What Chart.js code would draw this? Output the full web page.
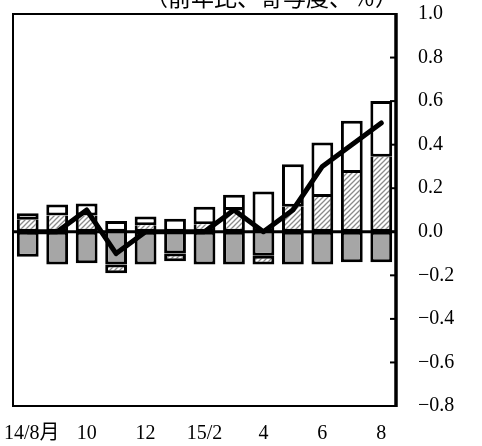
<!DOCTYPE html>
<html>
<head>
<meta charset="utf-8">
<script src="https://cdn.jsdelivr.net/npm/chart.js@4.4.1/dist/chart.umd.min.js"></script>
<style>
  html, body { margin: 0; padding: 0; background: #fff; }
  #wrap { width: 482px; height: 446px; }
</style>
</head>
<body>
<div id="wrap"><canvas id="chart" width="482" height="446"></canvas></div>
<script>
// monthly categories, 14/8 .. 15/8
const categories = ['14/8', '9', '10', '11', '12', '15/1', '15/2', '3', '4', '5', '6', '7', '8'];
const tickLabels = ['14/8月', '', '10', '', '12', '', '15/2', '', '4', '', '6', '', '8'];

// contributions (% pts)
const grayValues  = [-0.115, -0.15, -0.145, -0.15, -0.15, -0.10, -0.15, -0.15, -0.11, -0.15, -0.15, -0.14, -0.14];
const hatchValues = [0.055, 0.075, 0.075, -0.04, 0.03, -0.035, 0.035, 0.10, -0.04, 0.115, 0.16, 0.27, 0.345];
const whiteValues = [0.03, 0.05, 0.055, 0.05, 0.04, 0.06, 0.08, 0.07, 0.185, 0.195, 0.25, 0.24, 0.255];
// total (y/y %)
const totalValues = [0.0, 0.0, 0.1, -0.1, 0.0, 0.0, 0.0, 0.1, 0.0, 0.1, 0.3, 0.4, 0.5];

const yMin = -0.8, yMax = 1.0, yStep = 0.2;
const titleText = '（前年比、寄与度、％）';

const numFont = '"Liberation Serif", "Noto Sans CJK JP", serif';

// diagonal hatch fill
function makeHatch() {
    const s = 5;
    const c = document.createElement('canvas');
    c.width = s; c.height = s;
    const g = c.getContext('2d');
    g.fillStyle = '#fff';
    g.fillRect(0, 0, s, s);
    g.strokeStyle = '#8a8a8a';
    g.lineWidth = 1.3;
    g.beginPath();
    g.moveTo(0, s); g.lineTo(s, 0);
    g.moveTo(-1, 1); g.lineTo(1, -1);
    g.moveTo(s - 1, s + 1); g.lineTo(s + 1, s - 1);
    g.stroke();
    return g.createPattern(c, 'repeat');
}
const hatch = makeHatch();

// skip one of two touching edges so stacked pieces share a single border
function graySkip(c) {
    return hatchValues[c.dataIndex] < 0 ? 'bottom' : false;
}
function hatchSkip(c) {
    const i = c.dataIndex;
    return hatchValues[i] > 0 && whiteValues[i] > 0 ? 'top' : false;
}

// frame, inner ticks, zero line, x labels and title
const decorations = {
    id: 'decorations',
    afterDatasetsDraw(chart) {
        const ctx = chart.ctx;
        const a = chart.chartArea;
        const y = chart.scales.y;
        ctx.save();
        ctx.strokeStyle = '#000';
        ctx.lineWidth = 3;
        ctx.beginPath();
        ctx.moveTo(a.left, y.getPixelForValue(0));
        ctx.lineTo(a.right, y.getPixelForValue(0));
        ctx.stroke();
        ctx.restore();
    },
    afterDraw(chart) {
        const ctx = chart.ctx;
        const a = chart.chartArea;
        const x = chart.scales.x;
        const y = chart.scales.y;
        ctx.save();
        ctx.strokeStyle = '#000';
        ctx.lineWidth = 2;
        ctx.strokeRect(a.left, a.top, a.right - a.left, a.bottom - a.top);
        ctx.lineWidth = 3.5;
        ctx.beginPath();
        ctx.moveTo(a.right, a.top - 1);
        ctx.lineTo(a.right, a.bottom + 1);
        ctx.stroke();

        // inward tick marks on the right axis
        ctx.lineWidth = 2;
        y.ticks.forEach(t => {
            const py = y.getPixelForValue(t.value);
            ctx.beginPath();
            ctx.moveTo(a.right - 6, py);
            ctx.lineTo(a.right, py);
            ctx.stroke();
        });

        // category labels
        ctx.fillStyle = '#000';
        ctx.font = '20px ' + numFont;
        ctx.textBaseline = 'middle';
        tickLabels.forEach((lab, i) => {
            if (!lab) return;
            const px = x.getPixelForValue(i);
            if (i === 0) {
                ctx.textAlign = 'left';
                ctx.fillText(lab, a.left - 9, a.bottom + 28);
            } else {
                ctx.textAlign = 'center';
                ctx.fillText(lab, px, a.bottom + 28);
            }
        });

        // unit title, cut by the top edge
        ctx.font = '23px "Noto Sans CJK JP", sans-serif';
        ctx.textAlign = 'right';
        ctx.textBaseline = 'alphabetic';
        ctx.fillText(titleText, a.right + 2, 6);
        ctx.restore();
    }
};

const barCommon = {
    type: 'bar',
    borderColor: '#000',
    borderWidth: 3,
    barPercentage: 0.74,
    categoryPercentage: 1.0,
    order: 1
};

new Chart(document.getElementById('chart'), {
    data: {
        labels: categories,
        datasets: [
            Object.assign({ label: 'gray', data: grayValues, backgroundColor: '#a6a6a6', borderSkipped: graySkip }, barCommon),
            Object.assign({ label: 'hatch', data: hatchValues, backgroundColor: hatch, borderSkipped: hatchSkip }, barCommon),
            Object.assign({ label: 'white', data: whiteValues, backgroundColor: '#fff', borderSkipped: false }, barCommon),
            {
                type: 'line',
                label: 'total',
                data: totalValues,
                borderColor: '#000',
                borderWidth: 5,
                pointRadius: 0,
                tension: 0,
                borderJoinStyle: 'round',
                borderCapStyle: 'round',
                stack: 'total',
                order: 0
            }
        ]
    },
    options: {
        responsive: false,
        animation: false,
        events: [],
        layout: { padding: { left: 13, top: 14, right: 0, bottom: 0 } },
        plugins: {
            legend: { display: false },
            tooltip: { enabled: false },
            title: { display: false }
        },
        scales: {
            x: {
                stacked: true,
                offset: true,
                grid: { display: false, drawTicks: false },
                border: { display: false },
                ticks: { display: false },
                afterFit(s) { s.height = 40; s.paddingLeft = 0; s.paddingRight = 0; }
            },
            y: {
                position: 'right',
                stacked: true,
                min: yMin,
                max: yMax,
                grid: { display: false, drawTicks: false },
                border: { display: false },
                ticks: {
                    stepSize: yStep,
                    padding: 22,
                    color: '#000',
                    font: { family: numFont, size: 20 },
                    callback: v => (Math.abs(v) < 1e-9 ? 0 : v).toFixed(1).replace('-', '−')
                },
                afterFit(s) { s.width = 86; s.paddingTop = 0; s.paddingBottom = 0; }
            }
        }
    },
    plugins: [decorations]
});
</script>
</body>
</html>
